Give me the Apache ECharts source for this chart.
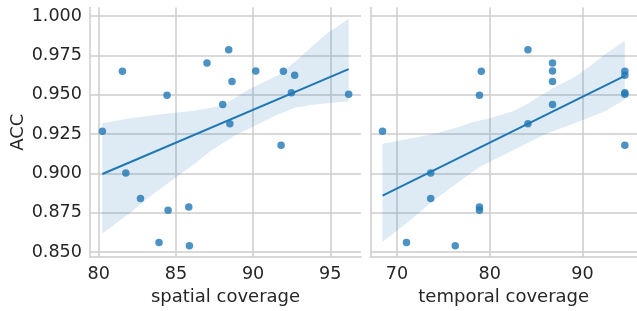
<!DOCTYPE html>
<html>
<head>
<meta charset="utf-8">
<script src="https://cdn.jsdelivr.net/npm/echarts@6/dist/echarts.min.js"></script>
<style>html,body{margin:0;padding:0;background:#fff}#c{width:637px;height:311px}</style>
</head>
<body>
<div id="c"></div>
<script>
// ---- data ----
const acc = [0.9268, 0.9650, 0.9003, 0.8842, 0.8562, 0.9497, 0.8767, 0.8788, 0.8541, 0.9702,
             0.9438, 0.9786, 0.9316, 0.9585, 0.9652, 0.9180, 0.9650, 0.9513, 0.9625, 0.9503];
const spatialCoverage = [80.23, 81.53, 81.75, 82.70, 83.90, 84.42, 84.49, 85.83, 85.87, 87.01,
                         88.03, 88.42, 88.49, 88.63, 90.17, 91.81, 91.96, 92.48, 92.69, 96.19];
const temporalCoverage = [68.45, 79.10, 73.64, 73.64, 71.03, 78.90, 78.90, 78.90, 76.29, 86.78,
                          86.78, 84.13, 84.13, 86.78, 86.78, 94.58, 94.58, 94.58, 94.58, 94.58];

// confidence band
const spatialCiUpX = [80.23, 81.94, 83.66, 84.95, 86.24, 87.31, 88.17, 88.82, 89.68, 90.54, 91.61, 92.69, 93.77, 94.84, 96.19];
const spatialCiUpper = [0.9320, 0.9349, 0.9372, 0.9387, 0.9401, 0.9418, 0.9438, 0.9480, 0.9532, 0.9573, 0.9625, 0.9709, 0.9802, 0.9895, 0.9983];
const spatialCiLowX = [80.23, 81.94, 83.23, 84.95, 86.24, 87.31, 88.82, 90.11, 91.40, 92.69, 93.98, 96.19];
const spatialCiLower = [0.8619, 0.8743, 0.8847, 0.8971, 0.9065, 0.9148, 0.9242, 0.9304, 0.9366, 0.9418, 0.9438, 0.9460];

const temporalCiUpX = [68.45, 71.17, 74.02, 76.50, 78.28, 80.06, 82.55, 83.97, 85.39, 86.81, 88.94, 90.72, 92.49, 94.58];
const temporalCiUpper = [0.9189, 0.9220, 0.9252, 0.9293, 0.9329, 0.9351, 0.9397, 0.9438, 0.9491, 0.9542, 0.9605, 0.9677, 0.9760, 0.9843];
const temporalCiLowX = [68.45, 71.17, 73.67, 76.50, 79.00, 81.13, 83.61, 86.10, 88.94, 90.72, 92.49, 94.58];
const temporalCiLower = [0.8567, 0.8691, 0.8816, 0.8940, 0.9044, 0.9106, 0.9179, 0.9252, 0.9314, 0.9356, 0.9397, 0.9470];

const yTicks = [0.850, 0.875, 0.900, 0.925, 0.950, 0.975, 1.000];
const spatialTicks = [80, 85, 90, 95];
const temporalTicks = [70, 80, 90];
const yRange = [0.8469, 1.0055];
const spatialRange = [79.43, 96.99];
const temporalRange = [67.14, 95.89];

// ---- helpers ----
function ols(xs, ys) {
  const n = xs.length;
  const mx = xs.reduce((a, b) => a + b, 0) / n;
  const my = ys.reduce((a, b) => a + b, 0) / n;
  let sxy = 0, sxx = 0;
  for (let i = 0; i < n; i++) { sxy += (xs[i] - mx) * (ys[i] - my); sxx += (xs[i] - mx) ** 2; }
  const b = sxy / sxx, a = my - b * mx;
  const x0 = Math.min(...xs), x1 = Math.max(...xs);
  return [[x0, a + b * x0], [x1, a + b * x1]];
}
function bandSeries(idx, upX, upY, lowX, lowY) {
  return {
    type: 'custom', xAxisIndex: idx, yAxisIndex: idx, z: 1, silent: true,
    data: [[upX[0], upY[0]]],
    renderItem: function (params, api) {
      const pts = [];
      for (let i = 0; i < upX.length; i++) pts.push(api.coord([upX[i], upY[i]]));
      for (let i = lowX.length - 1; i >= 0; i--) pts.push(api.coord([lowX[i], lowY[i]]));
      return { type: 'polygon', shape: { points: pts }, style: { fill: 'rgba(31,119,180,0.15)' } };
    }
  };
}

const FONT = 'DejaVu Sans';
const TXT = '#262626';
const GRIDC = '#cccccc';
const FS = 18;

function xAxis(idx, range, ticks, name) {
  return {
    type: 'value', gridIndex: idx, min: range[0], max: range[1],
    name: name, nameLocation: 'middle', nameGap: 27,
    nameTextStyle: { fontFamily: FONT, fontSize: FS, color: TXT },
    axisLine: { show: true, onZero: false, lineStyle: { color: GRIDC, width: 1.5 } },
    axisTick: { show: false, customValues: ticks },
    axisLabel: { customValues: ticks, fontFamily: FONT, fontSize: 17.6, color: TXT, margin: 8 },
    splitLine: { show: true, lineStyle: { color: GRIDC, width: 1.5 } }
  };
}
function yAxis(idx, showLabels) {
  return {
    type: 'value', gridIndex: idx, min: yRange[0], max: yRange[1],
    name: showLabels ? 'ACC' : '', nameLocation: 'middle', nameGap: 62,
    nameTextStyle: { fontFamily: FONT, fontSize: FS, color: TXT },
    axisLine: { show: true, onZero: false, lineStyle: { color: GRIDC, width: 1.5 } },
    axisTick: { show: false, customValues: yTicks },
    axisLabel: { show: showLabels, customValues: yTicks, formatter: v => v.toFixed(3),
                 fontFamily: FONT, fontSize: 17.6, color: TXT, margin: 8 },
    splitLine: { show: true, lineStyle: { color: GRIDC, width: 1.5 } }
  };
}

const chart = echarts.init(document.getElementById('c'), null, { renderer: 'canvas' });
chart.setOption({
  animation: false,
  backgroundColor: '#ffffff',
  grid: [
    { left: 90, top: 7.5, width: 271, height: 255 },
    { left: 370.4, top: 7.5, width: 271, height: 255 }
  ],
  xAxis: [xAxis(0, spatialRange, spatialTicks, 'spatial coverage'),
          xAxis(1, temporalRange, temporalTicks, 'temporal coverage')],
  yAxis: [yAxis(0, true), yAxis(1, false)],
  series: [
    bandSeries(0, spatialCiUpX, spatialCiUpper, spatialCiLowX, spatialCiLower),
    bandSeries(1, temporalCiUpX, temporalCiUpper, temporalCiLowX, temporalCiLower),
    { type: 'scatter', xAxisIndex: 0, yAxisIndex: 0, z: 3, symbolSize: 7.5,
      itemStyle: { color: '#1f77b4', opacity: 0.8 },
      data: spatialCoverage.map((x, i) => [x, acc[i]]) },
    { type: 'scatter', xAxisIndex: 1, yAxisIndex: 1, z: 3, symbolSize: 7.5,
      itemStyle: { color: '#1f77b4', opacity: 0.8 },
      data: temporalCoverage.map((x, i) => [x, acc[i]]) },
    { type: 'line', xAxisIndex: 0, yAxisIndex: 0, z: 2, symbol: 'none',
      lineStyle: { color: '#1f77b4', width: 2 }, data: ols(spatialCoverage, acc) },
    { type: 'line', xAxisIndex: 1, yAxisIndex: 1, z: 2, symbol: 'none',
      lineStyle: { color: '#1f77b4', width: 2 }, data: ols(temporalCoverage, acc) }
  ]
});
</script>
</body>
</html>
